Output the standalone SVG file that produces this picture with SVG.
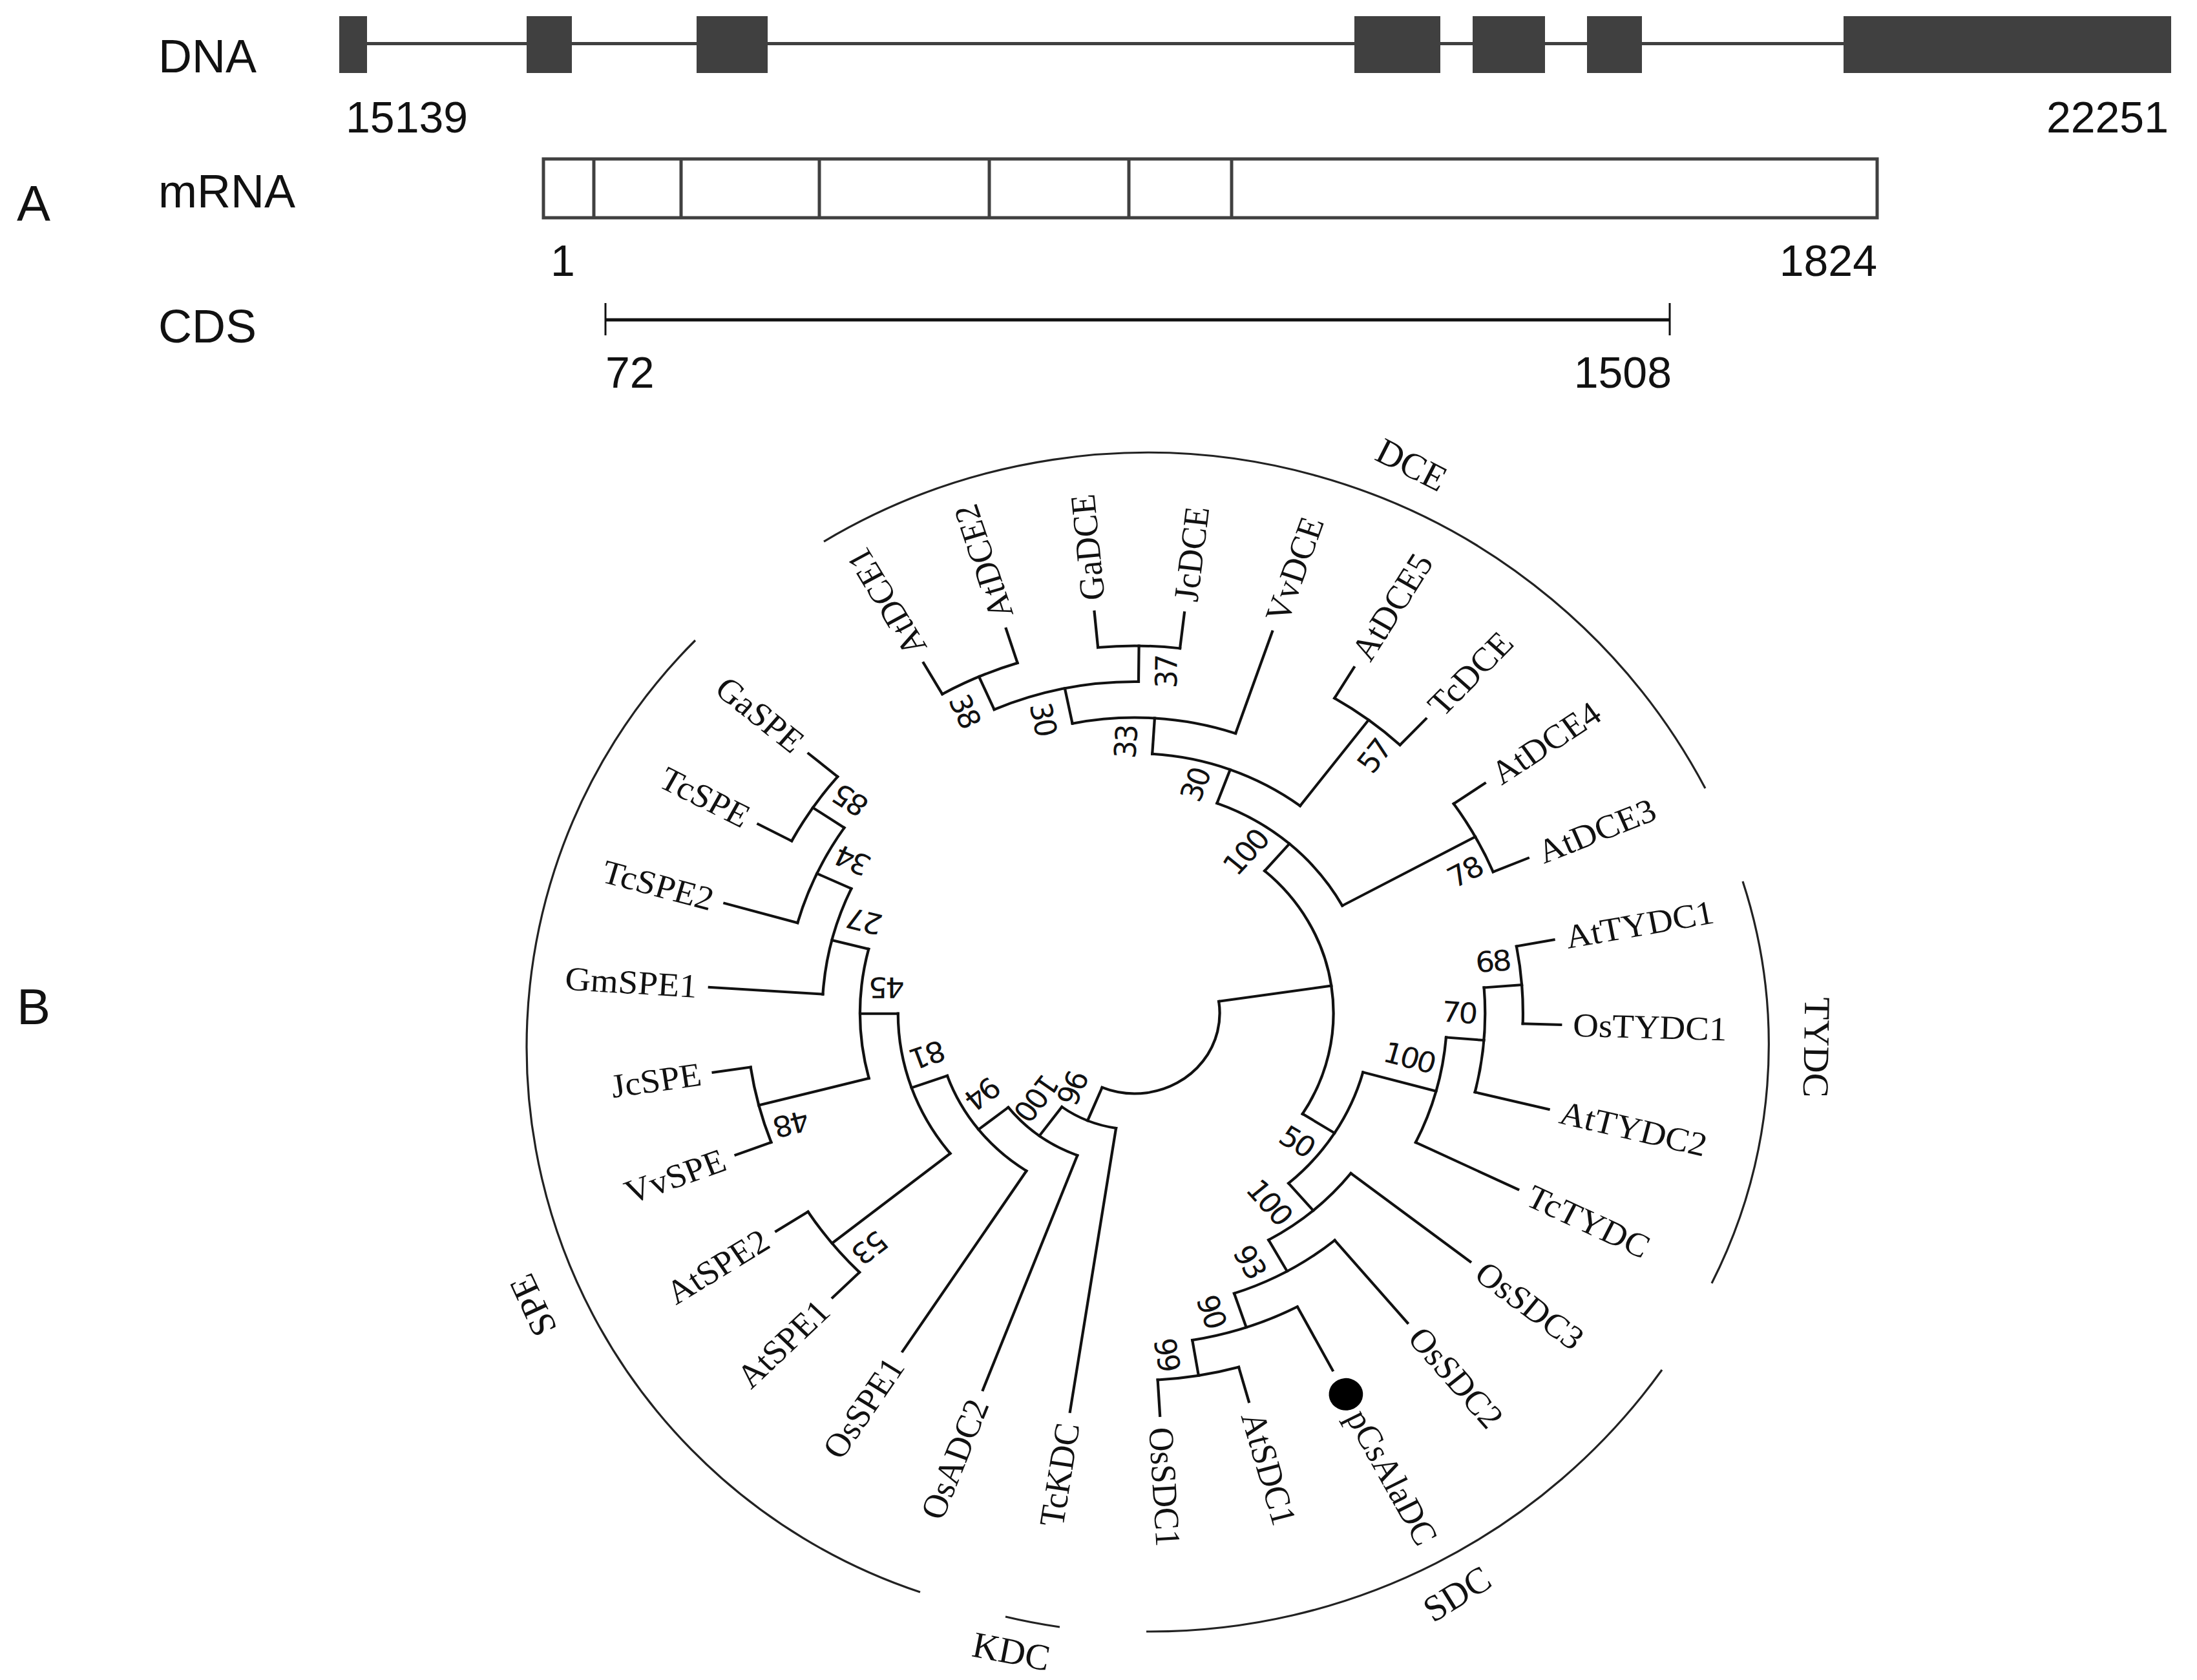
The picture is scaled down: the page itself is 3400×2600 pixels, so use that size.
<svg xmlns="http://www.w3.org/2000/svg" width="3400" height="2600" viewBox="0 0 3400 2600">
<style>
.sans{font-family:"Liberation Sans",Arial,sans-serif;fill:#111}
.lbl{font-size:72px}
.num{font-size:68px}
.dna{fill:#404040}
.mr{fill:none;stroke:#404040;stroke-width:5}
.br{fill:none;stroke:#111;stroke-width:4;stroke-linecap:square}
.clade{fill:none;stroke:#222;stroke-width:3.2}
.leaf{font-family:"Liberation Serif","Times New Roman",serif;font-size:52px;fill:#111}
.bs{font-family:"DejaVu Sans",Verdana,sans-serif;font-size:44px;letter-spacing:-3px;fill:#111;text-anchor:middle}
.cl{font-family:"Liberation Serif","Times New Roman",serif;font-size:57px;fill:#111;text-anchor:middle}
</style>
<rect width="3400" height="2600" fill="#fff"/>

<g id="panelA">
  <text class="sans" x="26" y="342" font-size="78">A</text>
  <g id="dna">
    <text class="sans lbl" x="245" y="112">DNA</text>
    <rect class="dna" x="525" y="65" width="2835" height="5"/>
    <rect class="dna" x="525" y="25" width="43" height="88"/>
    <rect class="dna" x="815" y="25" width="70" height="88"/>
    <rect class="dna" x="1078" y="25" width="110" height="88"/>
    <rect class="dna" x="2096" y="25" width="133" height="88"/>
    <rect class="dna" x="2279" y="25" width="112" height="88"/>
    <rect class="dna" x="2456" y="25" width="85" height="88"/>
    <rect class="dna" x="2853" y="25" width="507" height="88"/>
    <text class="sans num" x="535" y="205">15139</text>
    <text class="sans num" x="3356" y="205" text-anchor="end">22251</text>
  </g>
  <g id="mrna">
    <text class="sans lbl" x="245" y="321">mRNA</text>
    <rect class="mr" x="841" y="246" width="2064" height="91"/>
    <line class="mr" x1="919" y1="246" x2="919" y2="337"/>
    <line class="mr" x1="1054" y1="246" x2="1054" y2="337"/>
    <line class="mr" x1="1268" y1="246" x2="1268" y2="337"/>
    <line class="mr" x1="1531" y1="246" x2="1531" y2="337"/>
    <line class="mr" x1="1747" y1="246" x2="1747" y2="337"/>
    <line class="mr" x1="1906" y1="246" x2="1906" y2="337"/>
    <text class="sans num" x="852" y="427">1</text>
    <text class="sans num" x="2905" y="427" text-anchor="end">1824</text>
  </g>
  <g id="cds">
    <text class="sans lbl" x="245" y="530">CDS</text>
    <line x1="937" y1="495" x2="2584" y2="495" stroke="#111" stroke-width="5"/>
    <line x1="937" y1="469" x2="937" y2="519" stroke="#111" stroke-width="3"/>
    <line x1="2584" y1="469" x2="2584" y2="519" stroke="#111" stroke-width="3"/>
    <text class="sans num" x="937" y="600">72</text>
    <text class="sans num" x="2587" y="600" text-anchor="end">1508</text>
  </g>
</g>

<text class="sans" x="26" y="1585" font-size="78">B</text>

<g id="tree" transform="translate(1756 1568) scale(1.057 1)">
  <g id="connectors" class="br">
    <circle r="124.5" transform="rotate(-8.40)" stroke-dasharray="262.77 9999"/>
    <line x1="124.5" x2="291" transform="rotate(-8.40)"/>
    <line x1="124.5" x2="180" transform="rotate(112.53)"/>
    <circle r="291" transform="rotate(-49.17)" stroke-dasharray="414.13 9999"/>
    <line x1="291" x2="346.5" transform="rotate(-49.17)"/>
    <circle r="346.5" transform="rotate(-69.65)" stroke-dasharray="247.71 9999"/>
    <line x1="346.5" x2="402" transform="rotate(-69.65)"/>
    <circle r="402" transform="rotate(-86.33)" stroke-dasharray="234.13 9999"/>
    <line x1="402" x2="457.5" transform="rotate(-86.33)"/>
    <circle r="457.5" transform="rotate(-101.50)" stroke-dasharray="242.26 9999"/>
    <line x1="457.5" x2="513" transform="rotate(-101.50)"/>
    <circle r="513" transform="rotate(-113.64)" stroke-dasharray="217.30 9999"/>
    <line x1="513" x2="568.5" transform="rotate(-113.64)"/>
    <circle r="568.5" transform="rotate(-119.70)" stroke-dasharray="120.41 9999"/>
    <line x1="568.5" x2="624" transform="rotate(-119.70)"/>
    <line x1="568.5" x2="624" transform="rotate(-107.57)"/>
    <line x1="513" x2="568.5" transform="rotate(-89.37)"/>
    <circle r="568.5" transform="rotate(-95.43)" stroke-dasharray="120.41 9999"/>
    <line x1="568.5" x2="624" transform="rotate(-95.43)"/>
    <line x1="568.5" x2="624" transform="rotate(-83.30)"/>
    <line x1="457.5" x2="624" transform="rotate(-71.16)"/>
    <line x1="402" x2="568.5" transform="rotate(-52.96)"/>
    <circle r="568.5" transform="rotate(-59.03)" stroke-dasharray="120.41 9999"/>
    <line x1="568.5" x2="624" transform="rotate(-59.03)"/>
    <line x1="568.5" x2="624" transform="rotate(-46.89)"/>
    <line x1="346.5" x2="568.5" transform="rotate(-28.69)"/>
    <circle r="568.5" transform="rotate(-34.76)" stroke-dasharray="120.41 9999"/>
    <line x1="568.5" x2="624" transform="rotate(-34.76)"/>
    <line x1="568.5" x2="624" transform="rotate(-22.62)"/>
    <line x1="291" x2="346.5" transform="rotate(32.37)"/>
    <circle r="346.5" transform="rotate(15.30)" stroke-dasharray="206.46 9999"/>
    <line x1="346.5" x2="457.5" transform="rotate(15.30)"/>
    <circle r="457.5" transform="rotate(4.69)" stroke-dasharray="169.52 9999"/>
    <line x1="457.5" x2="624" transform="rotate(25.92)"/>
    <line x1="457.5" x2="513" transform="rotate(4.69)"/>
    <circle r="513" transform="rotate(-4.42)" stroke-dasharray="163.04 9999"/>
    <line x1="513" x2="624" transform="rotate(13.79)"/>
    <line x1="513" x2="568.5" transform="rotate(-4.42)"/>
    <circle r="568.5" transform="rotate(-10.49)" stroke-dasharray="120.41 9999"/>
    <line x1="568.5" x2="624" transform="rotate(-10.49)"/>
    <line x1="568.5" x2="624" transform="rotate(1.65)"/>
    <line x1="346.5" x2="402" transform="rotate(49.44)"/>
    <circle r="402" transform="rotate(38.06)" stroke-dasharray="159.62 9999"/>
    <line x1="402" x2="624" transform="rotate(38.06)"/>
    <line x1="402" x2="457.5" transform="rotate(60.81)"/>
    <circle r="457.5" transform="rotate(50.19)" stroke-dasharray="169.60 9999"/>
    <line x1="457.5" x2="624" transform="rotate(50.19)"/>
    <line x1="457.5" x2="513" transform="rotate(71.43)"/>
    <circle r="513" transform="rotate(62.33)" stroke-dasharray="162.95 9999"/>
    <line x1="513" x2="624" transform="rotate(62.33)"/>
    <line x1="513" x2="568.5" transform="rotate(80.53)"/>
    <circle r="568.5" transform="rotate(74.46)" stroke-dasharray="120.41 9999"/>
    <line x1="568.5" x2="624" transform="rotate(74.46)"/>
    <line x1="568.5" x2="624" transform="rotate(86.60)"/>
    <circle r="180" transform="rotate(98.73)" stroke-dasharray="86.68 9999"/>
    <line x1="180" x2="624" transform="rotate(98.73)"/>
    <line x1="180" x2="235.5" transform="rotate(126.32)"/>
    <circle r="235.5" transform="rotate(110.87)" stroke-dasharray="127.05 9999"/>
    <line x1="235.5" x2="624" transform="rotate(110.87)"/>
    <line x1="235.5" x2="291" transform="rotate(141.78)"/>
    <circle r="291" transform="rotate(123.00)" stroke-dasharray="190.71 9999"/>
    <line x1="291" x2="624" transform="rotate(123.00)"/>
    <line x1="291" x2="346.5" transform="rotate(160.55)"/>
    <circle r="346.5" transform="rotate(141.21)" stroke-dasharray="233.92 9999"/>
    <line x1="346.5" x2="568.5" transform="rotate(141.21)"/>
    <circle r="568.5" transform="rotate(135.14)" stroke-dasharray="120.41 9999"/>
    <line x1="568.5" x2="624" transform="rotate(135.14)"/>
    <line x1="568.5" x2="624" transform="rotate(147.27)"/>
    <line x1="346.5" x2="402" transform="rotate(179.89)"/>
    <circle r="402" transform="rotate(165.48)" stroke-dasharray="202.21 9999"/>
    <line x1="402" x2="568.5" transform="rotate(165.48)"/>
    <circle r="568.5" transform="rotate(159.41)" stroke-dasharray="120.41 9999"/>
    <line x1="568.5" x2="624" transform="rotate(159.41)"/>
    <line x1="568.5" x2="624" transform="rotate(171.54)"/>
    <line x1="402" x2="457.5" transform="rotate(194.30)"/>
    <circle r="457.5" transform="rotate(183.68)" stroke-dasharray="169.60 9999"/>
    <line x1="457.5" x2="624" transform="rotate(183.68)"/>
    <line x1="457.5" x2="513" transform="rotate(204.92)"/>
    <circle r="513" transform="rotate(195.81)" stroke-dasharray="163.04 9999"/>
    <line x1="513" x2="624" transform="rotate(195.81)"/>
    <line x1="513" x2="568.5" transform="rotate(214.02)"/>
    <circle r="568.5" transform="rotate(207.95)" stroke-dasharray="120.41 9999"/>
    <line x1="568.5" x2="624" transform="rotate(207.95)"/>
    <line x1="568.5" x2="624" transform="rotate(220.08)"/>
  </g>

  <g id="leaves">
    <g id="AtDCE1"><text class="leaf" transform="rotate(-119.70) translate(642 0)" dy="0.33em">AtDCE1</text></g>
    <g id="AtDCE2"><text class="leaf" transform="rotate(-107.57) translate(642 0)" dy="0.33em">AtDCE2</text></g>
    <g id="GaDCE"><text class="leaf" transform="rotate(-95.43) translate(642 0)" dy="0.33em">GaDCE</text></g>
    <g id="JcDCE"><text class="leaf" transform="rotate(-83.30) translate(642 0)" dy="0.33em">JcDCE</text></g>
    <g id="VvDCE"><text class="leaf" transform="rotate(-71.16) translate(642 0)" dy="0.33em">VvDCE</text></g>
    <g id="AtDCE5"><text class="leaf" transform="rotate(-59.03) translate(642 0)" dy="0.33em">AtDCE5</text></g>
    <g id="TcDCE"><text class="leaf" transform="rotate(-46.89) translate(642 0)" dy="0.33em">TcDCE</text></g>
    <g id="AtDCE4"><text class="leaf" transform="rotate(-34.76) translate(642 0)" dy="0.33em">AtDCE4</text></g>
    <g id="AtDCE3"><text class="leaf" transform="rotate(-22.62) translate(642 0)" dy="0.33em">AtDCE3</text></g>
    <g id="AtTYDC1"><text class="leaf" transform="rotate(-10.49) translate(642 0)" dy="0.33em">AtTYDC1</text></g>
    <g id="OsTYDC1"><text class="leaf" transform="rotate(1.65) translate(642 0)" dy="0.33em">OsTYDC1</text></g>
    <g id="AtTYDC2"><text class="leaf" transform="rotate(13.79) translate(642 0)" dy="0.33em">AtTYDC2</text></g>
    <g id="TcTYDC"><text class="leaf" transform="rotate(25.92) translate(642 0)" dy="0.33em">TcTYDC</text></g>
    <g id="OsSDC3"><text class="leaf" transform="rotate(38.06) translate(642 0)" dy="0.33em">OsSDC3</text></g>
    <g id="OsSDC2"><text class="leaf" transform="rotate(50.19) translate(642 0)" dy="0.33em">OsSDC2</text></g>
    <g id="pCsAlaDC">
      <circle cx="666" cy="0" r="25" transform="rotate(62.33)" fill="#000"/>
      <text class="leaf" transform="rotate(62.33) translate(697 0)" dy="0.33em">pCsAlaDC</text>
    </g>
    <g id="AtSDC1"><text class="leaf" transform="rotate(74.46) translate(642 0)" dy="0.33em">AtSDC1</text></g>
    <g id="OsSDC1"><text class="leaf" transform="rotate(86.60) translate(642 0)" dy="0.33em">OsSDC1</text></g>
    <g id="TcKDC"><text class="leaf" text-anchor="end" transform="rotate(98.73) translate(642 0) rotate(180)" dy="0.33em">TcKDC</text></g>
    <g id="OsADC2"><text class="leaf" text-anchor="end" transform="rotate(110.87) translate(642 0) rotate(180)" dy="0.33em">OsADC2</text></g>
    <g id="OsSPE1"><text class="leaf" text-anchor="end" transform="rotate(123.00) translate(642 0) rotate(180)" dy="0.33em">OsSPE1</text></g>
    <g id="AtSPE1"><text class="leaf" text-anchor="end" transform="rotate(135.14) translate(642 0) rotate(180)" dy="0.33em">AtSPE1</text></g>
    <g id="AtSPE2"><text class="leaf" text-anchor="end" transform="rotate(147.27) translate(642 0) rotate(180)" dy="0.33em">AtSPE2</text></g>
    <g id="VvSPE"><text class="leaf" text-anchor="end" transform="rotate(159.41) translate(642 0) rotate(180)" dy="0.33em">VvSPE</text></g>
    <g id="JcSPE"><text class="leaf" text-anchor="end" transform="rotate(171.54) translate(642 0) rotate(180)" dy="0.33em">JcSPE</text></g>
    <g id="GmSPE1"><text class="leaf" text-anchor="end" transform="rotate(183.68) translate(642 0) rotate(180)" dy="0.33em">GmSPE1</text></g>
    <g id="TcSPE2"><text class="leaf" text-anchor="end" transform="rotate(195.81) translate(642 0) rotate(180)" dy="0.33em">TcSPE2</text></g>
    <g id="TcSPE"><text class="leaf" text-anchor="end" transform="rotate(207.95) translate(642 0) rotate(180)" dy="0.33em">TcSPE</text></g>
    <g id="GaSPE"><text class="leaf" text-anchor="end" transform="rotate(220.08) translate(642 0) rotate(180)" dy="0.33em">GaSPE</text></g>
  </g>

  <g id="bootstrap">
    <g id="n38"><text class="bs" transform="rotate(-113.64) translate(528.5 -40) rotate(180)" dy="0.36em">38</text></g>
    <g id="n30a"><text class="bs" transform="rotate(-101.50) translate(473 -40) rotate(180)" dy="0.36em">30</text></g>
    <g id="n37"><text class="bs" transform="rotate(-89.37) translate(528.5 40)" dy="0.36em">37</text></g>
    <g id="n33"><text class="bs" transform="rotate(-86.33) translate(417.5 -40)" dy="0.36em">33</text></g>
    <g id="n30b"><text class="bs" transform="rotate(-69.65) translate(362 -40)" dy="0.36em">30</text></g>
    <g id="n57"><text class="bs" transform="rotate(-52.96) translate(528.5 40)" dy="0.36em">57</text></g>
    <g id="n100dce"><text class="bs" transform="rotate(-49.17) translate(294.5 -40)" dy="0.36em">100</text></g>
    <g id="n78"><text class="bs" transform="rotate(-28.69) translate(528.5 40)" dy="0.36em">78</text></g>
    <g id="n68"><text class="bs" transform="rotate(-4.42) translate(528.5 -40)" dy="0.36em">68</text></g>
    <g id="n70"><text class="bs" transform="rotate(4.69) translate(473 -40)" dy="0.36em">70</text></g>
    <g id="n100tydc"><text class="bs" transform="rotate(15.30) translate(405.5 -40)" dy="0.36em">100</text></g>
    <g id="n50"><text class="bs" transform="rotate(32.37) translate(306.5 40)" dy="0.36em">50</text></g>
    <g id="n100sdc"><text class="bs" transform="rotate(49.44) translate(350 40)" dy="0.36em">100</text></g>
    <g id="n93"><text class="bs" transform="rotate(60.81) translate(417.5 40)" dy="0.36em">93</text></g>
    <g id="n90"><text class="bs" transform="rotate(71.43) translate(473 40)" dy="0.36em">90</text></g>
    <g id="n99"><text class="bs" transform="rotate(80.53) translate(528.5 40)" dy="0.36em">99</text></g>
    <g id="n96"><text class="bs" transform="rotate(112.53) translate(140 40)" dy="0.36em">96</text></g>
    <g id="n100k"><text class="bs" transform="rotate(126.32) translate(190 38)" dy="0.36em">100</text></g>
    <g id="n94"><text class="bs" transform="rotate(141.78) translate(251 40)" dy="0.36em">94</text></g>
    <g id="n81"><text class="bs" transform="rotate(160.55) translate(306.5 40)" dy="0.36em">81</text></g>
    <g id="n53"><text class="bs" transform="rotate(141.21) translate(528.5 -40)" dy="0.36em">53</text></g>
    <g id="n45"><text class="bs" transform="rotate(179.89) translate(362 40)" dy="0.36em">45</text></g>
    <g id="n48"><text class="bs" transform="rotate(165.48) translate(528.5 -40)" dy="0.36em">48</text></g>
    <g id="n27"><text class="bs" transform="rotate(194.30) translate(417.5 40)" dy="0.36em">27</text></g>
    <g id="n34"><text class="bs" transform="rotate(204.92) translate(473 40)" dy="0.36em">34</text></g>
    <g id="n85"><text class="bs" transform="rotate(214.02) translate(528.5 40)" dy="0.36em">85</text></g>
  </g>
</g>

<g id="clades">
  <g id="clade-DCE">
    <path class="clade" d="M 1275 838 A 978 978 0 0 1 2639 1220"/>
    <text class="cl" transform="translate(2184.5 719.5) rotate(27)" dy="0.33em">DCE</text>
  </g>
  <g id="clade-TYDC">
    <path class="clade" d="M 2697 1364 A 815 815 0 0 1 2649 1986"/>
    <text class="cl" transform="translate(2811 1621) rotate(91)" dy="0.33em">TYDC</text>
  </g>
  <g id="clade-SDC">
    <path class="clade" d="M 2572 2120 A 976 976 0 0 1 1774 2525"/>
    <text class="cl" transform="translate(2255 2467) rotate(-32)" dy="0.33em">SDC</text>
  </g>
  <g id="clade-KDC">
    <path class="clade" d="M 1556 2502 A 957 957 0 0 0 1640 2518"/>
    <text class="cl" transform="translate(1565 2556) rotate(11)" dy="0.33em">KDC</text>
  </g>
  <g id="clade-SPE">
    <path class="clade" d="M 1076 991 A 889 889 0 0 0 1424 2464"/>
    <text class="cl" transform="translate(825 2020) rotate(-115)" dy="0.33em">SPE</text>
  </g>
</g>
</svg>
